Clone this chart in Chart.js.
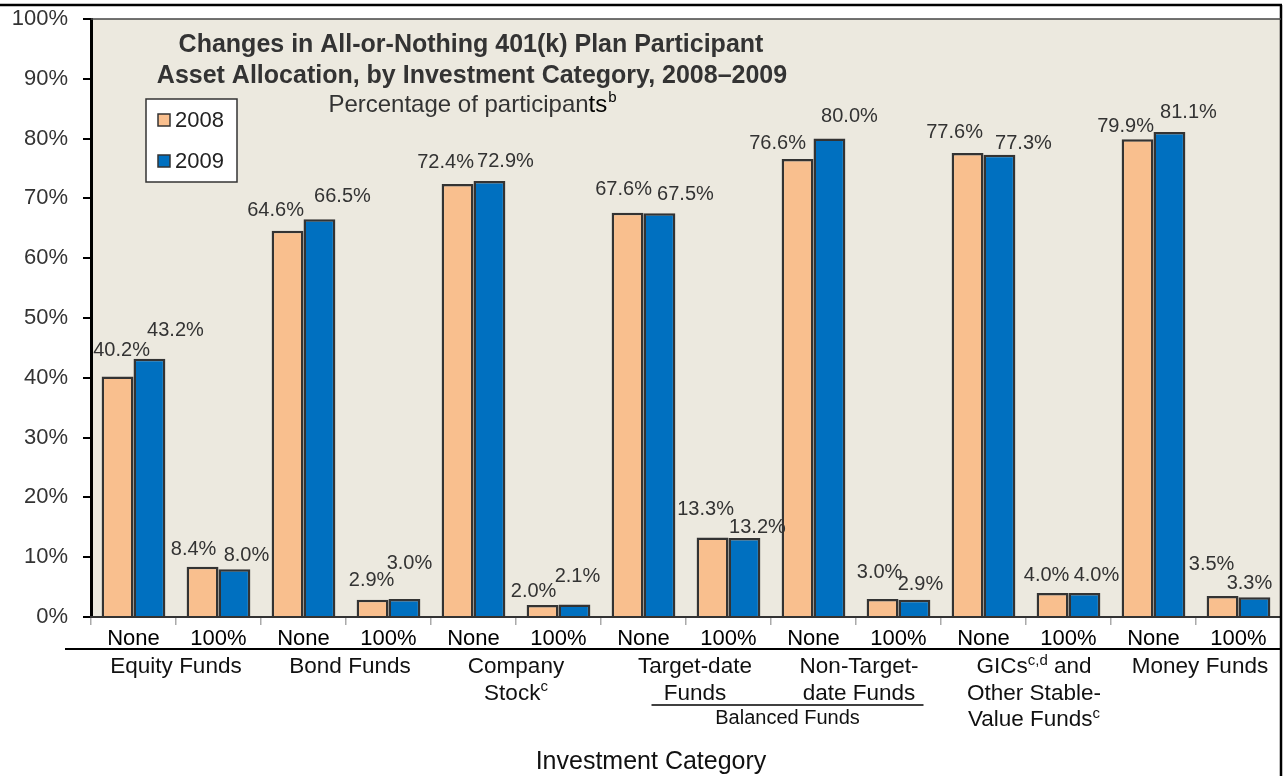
<!DOCTYPE html>
<html>
<head>
<meta charset="utf-8">
<title>All-or-Nothing 401(k) Asset Allocation</title>
<script src="https://cdn.jsdelivr.net/npm/chart.js@4.4.1/dist/chart.umd.min.js"></script>
<style>
  html, body { margin: 0; padding: 0; background: #fff; }
  #wrap { width: 1283px; height: 776px; position: relative; }
</style>
</head>
<body>
<div id="wrap"><canvas id="chart"></canvas></div>
<script>
// data
const categories = ['None', '100%', 'None', '100%', 'None', '100%', 'None', '100%',
                    'None', '100%', 'None', '100%', 'None', '100%'];
const groupLabels = [
    ['Equity Funds'],
    ['Bond Funds'],
    ['Company', 'Stock^c'],
    ['Target-date', 'Funds'],
    ['Non-Target-', 'date Funds'],
    ['GICs^c,d| and', 'Other Stable-', 'Value Funds^c'],
    ['Money Funds']
];
const seriesNames = ['2008', '2009'];
const values2008 = [40.2, 8.4, 64.6, 2.9, 72.4, 2.0, 67.6, 13.3, 76.6, 3.0, 77.6, 4.0, 79.9, 3.5];
const values2009 = [43.2, 8.0, 66.5, 3.0, 72.9, 2.1, 67.5, 13.2, 80.0, 2.9, 77.3, 4.0, 81.1, 3.3];
const yTicks = [0, 10, 20, 30, 40, 50, 60, 70, 80, 90, 100];

// label nudges (px) so the value labels sit like in the original
const nudge2008 = [[4, -26], [-9, -17], [-12, -20], [-1, -19], [-12, -22], [-9, -14], [-4, -23],
                   [-7, -28], [-20, -15], [-3, -27], [-13, -20], [-6, -18], [-12, -13], [-11, -32]];
const nudge2009 = [[26, -28], [12, -14], [23, -23], [5, -36], [16, -20], [3, -28], [26, -19],
                   [13, -11], [20, -22], [6, -15], [24, -11], [12, -18], [19, -20], [-5, -14]];
const groupDx = [0, 4, 0, 9, 3, 8, 4];

const FONT = '"Liberation Sans", Arial, Helvetica, sans-serif';
const colors = ['#F9BF8E', '#0070C0'];

// draws "text^sup" centred at x (superscript part ends at '|' or end of string)
function drawRich(ctx, str, x, y, size, color) {
    let parts = [];
    const i = str.indexOf('^');
    if (i < 0) {
        parts.push({ t: str, sup: false });
    } else {
        parts.push({ t: str.slice(0, i), sup: false });
        let rest = str.slice(i + 1);
        const j = rest.indexOf('|');
        if (j < 0) {
            parts.push({ t: rest, sup: true });
        } else {
            parts.push({ t: rest.slice(0, j), sup: true });
            parts.push({ t: rest.slice(j + 1), sup: false });
        }
    }
    let total = 0;
    parts.forEach(p => {
        ctx.font = (p.sup ? Math.round(size * 0.65) : size) + 'px ' + FONT;
        p.w = ctx.measureText(p.t).width;
        total += p.w;
    });
    let cx = x - total / 2;
    ctx.fillStyle = color;
    ctx.textAlign = 'left';
    ctx.textBaseline = 'middle';
    parts.forEach(p => {
        ctx.font = (p.sup ? Math.round(size * 0.65) : size) + 'px ' + FONT;
        ctx.fillText(p.t, cx, p.sup ? y - size * 0.28 : y);
        cx += p.w;
    });
}

const decorPlugin = {
    id: 'decor',
    beforeDraw(chart) {
        const { ctx, chartArea: a } = chart;
        ctx.save();
        ctx.fillStyle = '#ECE9DF';
        ctx.fillRect(a.left, a.top, a.right - a.left, a.bottom - a.top);
        ctx.restore();
    },
    afterDatasetsDraw(chart) {
        const { ctx } = chart;
        ctx.save();
        ctx.font = '20px ' + FONT;
        ctx.fillStyle = '#333';
        ctx.textAlign = 'center';
        ctx.textBaseline = 'middle';
        chart.data.datasets.forEach((ds, di) => {
            const meta = chart.getDatasetMeta(di);
            const nudges = di === 0 ? nudge2008 : nudge2009;
            meta.data.forEach((bar, k) => {
                const n = nudges[k];
                ctx.fillText(ds.data[k].toFixed(1) + '%', bar.x + n[0], bar.y + n[1]);
            });
        });
        ctx.restore();
    },
    afterDraw(chart) {
        const { ctx, chartArea: a, scales } = chart;
        const x = scales.x;
        ctx.save();

        // outer frame
        ctx.strokeStyle = '#000';
        ctx.lineWidth = 2.5;
        ctx.beginPath();
        ctx.moveTo(0, 5); ctx.lineTo(1282, 5);
        ctx.moveTo(1281, 5); ctx.lineTo(1281, 776);
        ctx.stroke();

        // plot top border
        ctx.strokeStyle = '#444';
        ctx.lineWidth = 1.5;
        ctx.beginPath();
        ctx.moveTo(a.left, a.top); ctx.lineTo(a.right, a.top);
        ctx.stroke();

        // title
        ctx.fillStyle = '#333';
        ctx.textAlign = 'center';
        ctx.textBaseline = 'middle';
        ctx.font = 'bold 25px ' + FONT;
        ctx.fillText('Changes in All-or-Nothing 401(k) Plan Participant', 471, 45);
        ctx.fillText('Asset Allocation, by Investment Category, 2008\u20132009', 472, 76);

        // subtitle
        ctx.font = '24px ' + FONT;
        const s1 = 'Percentage of participan', s2 = 'ts';
        const w1 = ctx.measureText(s1).width, w2 = ctx.measureText(s2).width;
        ctx.font = '15px ' + FONT;
        const w3 = ctx.measureText('b').width;
        let sx = 472 - (w1 + w2 + w3) / 2;
        ctx.textAlign = 'left';
        ctx.font = '24px ' + FONT;
        ctx.fillStyle = '#333';
        ctx.fillText(s1, sx, 105);
        ctx.fillStyle = '#000';
        ctx.fillText(s2, sx + w1, 105);
        ctx.font = '15px ' + FONT;
        ctx.fillText('b', sx + w1 + w2 + 1, 98);

        // legend
        const lx = a.left + 55, ly = a.top + 80;
        ctx.fillStyle = '#fff';
        ctx.fillRect(lx, ly, 91, 83);
        ctx.strokeStyle = '#333';
        ctx.lineWidth = 1.5;
        ctx.strokeRect(lx, ly, 91, 83);
        chart.data.datasets.forEach((ds, di) => {
            const cy = ly + 21 + di * 41;
            ctx.fillStyle = ds.backgroundColor;
            ctx.fillRect(lx + 12, cy - 6, 12, 12);
            ctx.strokeRect(lx + 12, cy - 6, 12, 12);
            ctx.fillStyle = '#222';
            ctx.font = '22px ' + FONT;
            ctx.textBaseline = 'middle';
            ctx.fillText(ds.label, lx + 29, cy + 1);
        });

        // separator under None/100%
        ctx.strokeStyle = '#000';
        ctx.lineWidth = 2;
        ctx.beginPath();
        ctx.moveTo(65, a.bottom + 32); ctx.lineTo(a.right, a.bottom + 32);
        ctx.stroke();

        // group labels
        groupLabels.forEach((lines, g) => {
            const cx = (x.getPixelForValue(2 * g) + x.getPixelForValue(2 * g + 1)) / 2 + groupDx[g];
            lines.forEach((ln, li) => {
                drawRich(ctx, ln, cx, a.bottom + 50 + li * 26.5, 22.5, '#111');
            });
        });

        // balanced funds bracket
        const bx1 = x.getPixelForValue(6) + 8, bx2 = x.getPixelForValue(9) + 25;
        ctx.strokeStyle = '#000';
        ctx.lineWidth = 1.5;
        ctx.beginPath();
        ctx.moveTo(bx1, a.bottom + 88); ctx.lineTo(bx2, a.bottom + 88);
        ctx.stroke();
        drawRich(ctx, 'Balanced Funds', (bx1 + bx2) / 2, a.bottom + 101, 20, '#111');

        // axis title
        drawRich(ctx, 'Investment Category', (a.left + a.right) / 2 - 35, a.bottom + 145, 25, '#111');

        ctx.restore();
    }
};

const chart = new Chart(document.getElementById('chart'), {
    type: 'bar',
    data: {
        labels: categories,
        datasets: [
            {
                label: seriesNames[0],
                data: values2008,
                backgroundColor: colors[0],
                borderColor: '#333',
                borderWidth: 2.5,
                barPercentage: 1,
                categoryPercentage: 0.75
            },
            {
                label: seriesNames[1],
                data: values2009,
                backgroundColor: colors[1],
                borderColor: '#333',
                borderWidth: 2.5,
                barPercentage: 1,
                categoryPercentage: 0.75
            }
        ]
    },
    options: {
        responsive: true,
        maintainAspectRatio: false,
        animation: false,
        layout: { padding: { top: 19, right: 2, left: 0, bottom: 0 } },
        plugins: {
            legend: { display: false },
            tooltip: { enabled: false }
        },
        scales: {
            y: {
                min: 0,
                max: 100,
                afterFit: s => { s.width = 91; s.paddingTop = 0; s.paddingBottom = 0; },
                afterBuildTicks: s => { s.ticks = yTicks.map(v => ({ value: v })); },
                border: { color: '#000', width: 3 },
                grid: { drawOnChartArea: false, drawTicks: true, tickLength: 8, color: '#000', lineWidth: 2 },
                ticks: {
                    padding: 15,
                    color: '#333',
                    font: { family: FONT, size: 22 },
                    callback: v => v + '%'
                }
            },
            x: {
                afterFit: s => { s.height = 159; s.paddingLeft = 0; s.paddingRight = 0; },
                border: { color: '#333', width: 2 },
                grid: { drawOnChartArea: false, drawTicks: true, tickLength: 8, color: '#aaa', lineWidth: 1.5, offset: true },
                ticks: {
                    padding: 1,
                    color: '#000',
                    maxRotation: 0,
                    autoSkip: false,
                    font: { family: FONT, size: 22 }
                }
            }
        }
    },
    plugins: [decorPlugin]
});
</script>
</body>
</html>
